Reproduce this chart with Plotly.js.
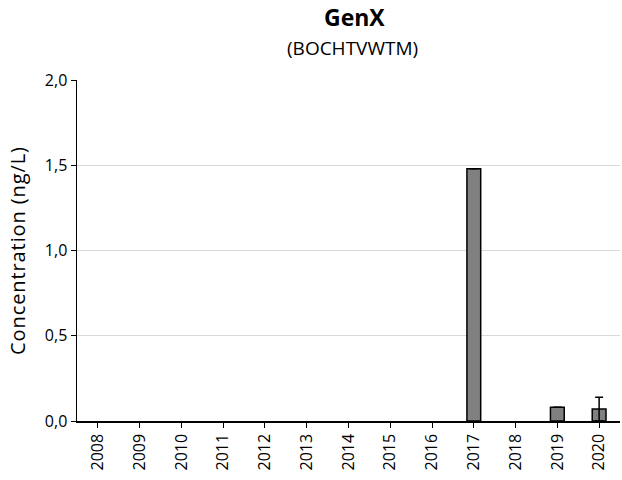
<!DOCTYPE html>
<html><head><meta charset="utf-8">
<script src="https://cdn.plot.ly/plotly-3.0.1.min.js"></script>
<style>html,body{margin:0;padding:0;background:#fff}#c{width:622px;height:480px}
.ytitle{letter-spacing:0.9px}</style>
</head><body><div id="c"></div>
<script>
const years = ['2008','2009','2010','2011','2012','2013','2014','2015','2016','2017','2018','2019','2020'];
const values = [null,null,null,null,null,null,null,null,null,1.48,null,0.08,0.07];
const errors = [0,0,0,0,0,0,0,0,0,0,0,0,0.07];
const yTicks = [0,0.5,1.0,1.5,2.0];
const yTickText = ['0,0','0,5','1,0','1,5','2,0'];
const F = '"Open Sans", sans-serif';
const trace = {
  type:'bar', x: years, y: values,
  marker:{color:'#808080', line:{color:'#000', width:1.5}},
  width:0.33,
  error_y:{type:'data', array: errors, visible:true, color:'#000', thickness:1.5, width:4},
  hoverinfo:'none'
};
const layout = {
  width:622, height:480,
  margin:{l:77, r:2, t:80, b:59},
  paper_bgcolor:'#fff', plot_bgcolor:'#fff',
  showlegend:false,
  xaxis:{type:'category', tickangle:-90, ticks:'outside', ticklen:5, tickcolor:'#000',
    showline:true, linecolor:'#000', linewidth:1.5, showgrid:false,
    tickfont:{family:F, size:16, color:'#000'}},
  yaxis:{range:[0,2], tickvals:yTicks, ticktext:yTickText, ticks:'outside', ticklen:5, tickcolor:'#000',
    showline:true, linecolor:'#000', linewidth:1.5, showgrid:true, gridcolor:'#d9d9d9', gridwidth:1,
    zeroline:false, tickfont:{family:F, size:16, color:'#000'},
    title:{text:'Concentration (ng/L)', font:{family:F, size:20, color:'#000'}, standoff:14}},
  annotations:[
    {text:'<b>GenX</b>', xref:'paper', yref:'paper', x:0.511, y:1.185, xanchor:'center', yanchor:'middle', showarrow:false, font:{family:F, size:23, color:'#000'}},
    {text:'(BOCHTVWTM)', xref:'paper', yref:'paper', x:0.508, y:1.095, xanchor:'center', yanchor:'middle', showarrow:false, font:{family:F, size:19, color:'#000'}}
  ]
};
Plotly.newPlot('c',[trace],layout,{displayModeBar:false, staticPlot:true});
</script></body></html>
